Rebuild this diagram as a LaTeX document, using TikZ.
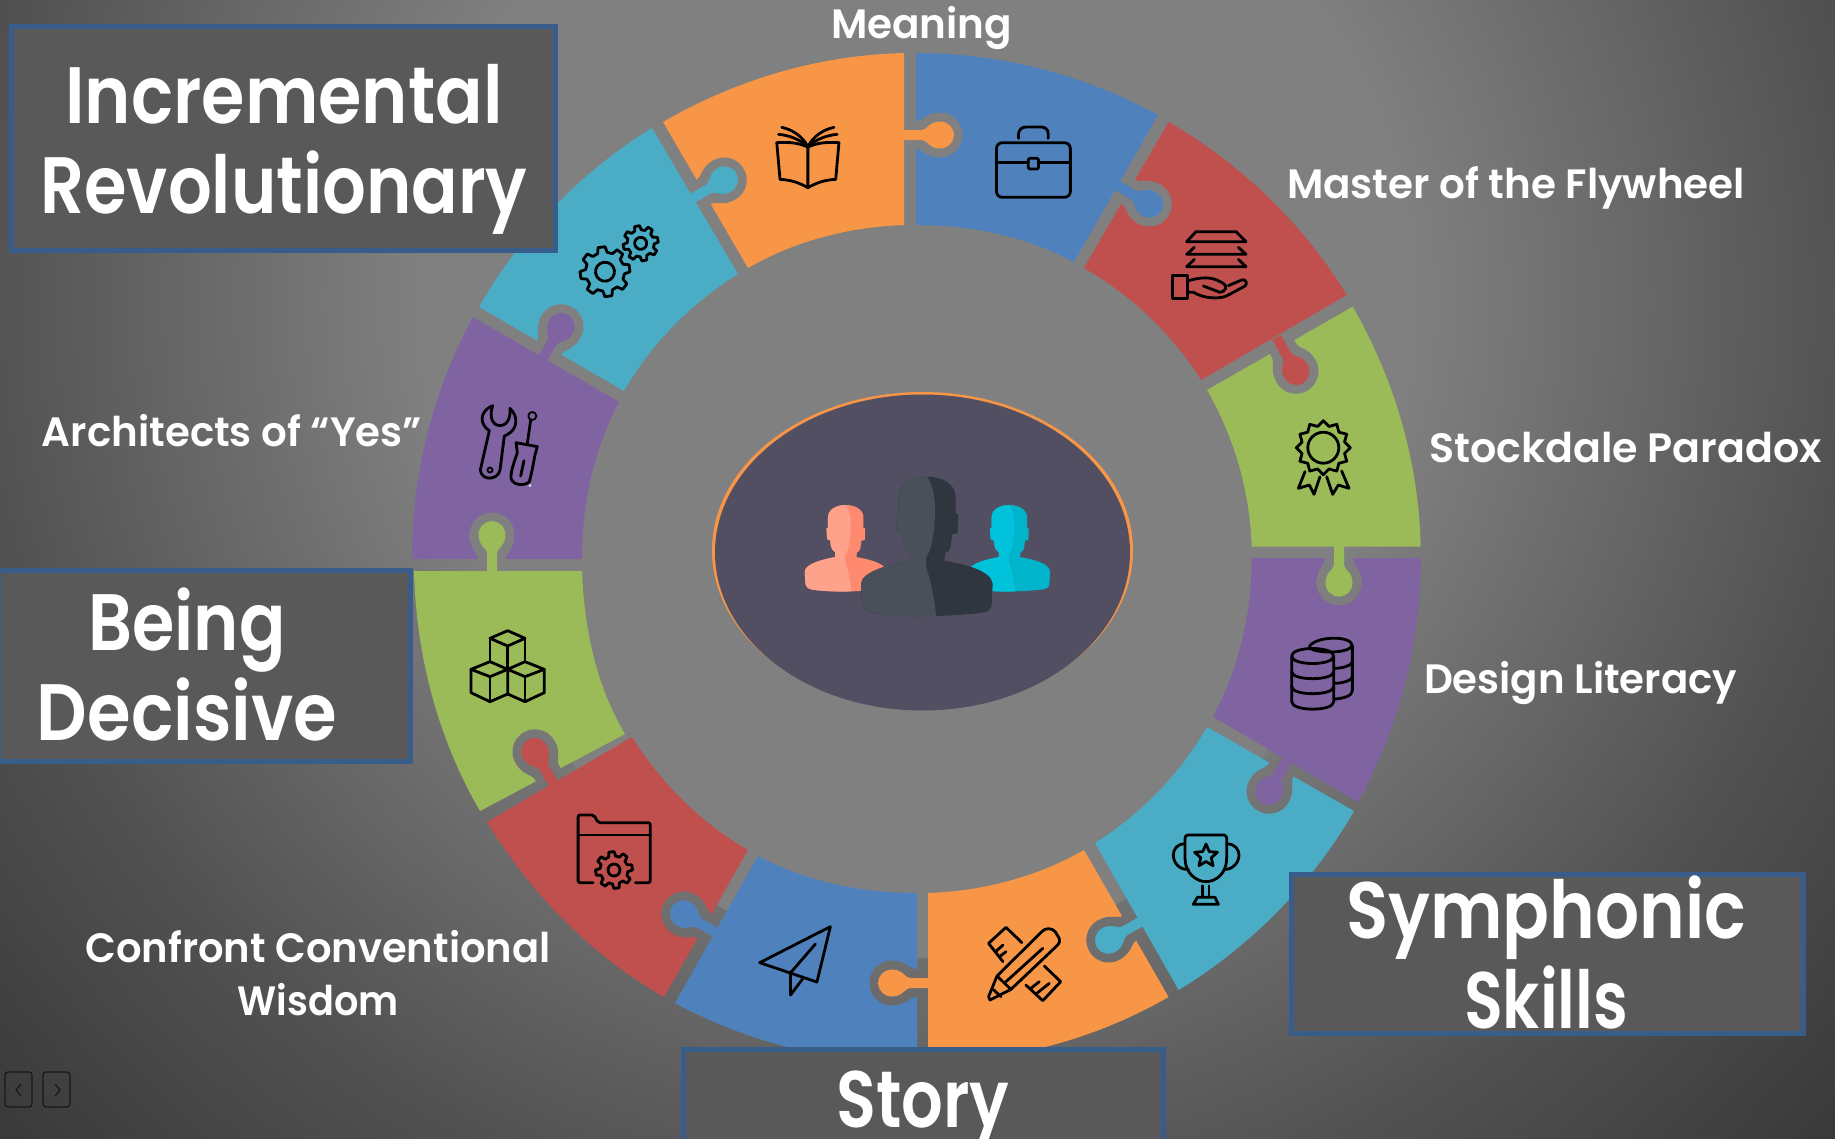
\documentclass[tikz,border=0pt]{standalone}
\usepackage{fontspec}
\usepackage{graphicx}
\setmainfont{Poppins}[UprightFont=* SemiBold]
\definecolor{pOrange}{HTML}{F79646}
\definecolor{pBlue}{HTML}{4F81BD}
\definecolor{pRed}{HTML}{C0504D}
\definecolor{pGreen}{HTML}{9BBB59}
\definecolor{pPurple}{HTML}{8064A2}
\definecolor{pCyan}{HTML}{4BACC6}
\definecolor{boxFill}{HTML}{595959}
\definecolor{boxLine}{HTML}{385D8A}
\definecolor{eggFill}{HTML}{524F63}
\definecolor{manL}{HTML}{495059}
\definecolor{manD}{HTML}{30363F}
\definecolor{pinkL}{HTML}{FFA28C}
\definecolor{pinkD}{HTML}{FF8A70}
\definecolor{tealL}{HTML}{00C3DB}
\definecolor{tealD}{HTML}{00B5CB}
\definecolor{midGrey}{HTML}{808080}
\definecolor{navDark}{HTML}{181818}
\pgfdeclareradialshading{bgshade}{\pgfpoint{0bp}{0bp}}{%
 rgb(0bp)=(0.502,0.502,0.502);
 rgb(9.5bp)=(0.502,0.502,0.502);
 rgb(18bp)=(0.32,0.32,0.32);
 rgb(26bp)=(0.19,0.19,0.19);
 rgb(100bp)=(0.19,0.19,0.19)}
\newcommand\bgfill{\path[shading=bgshade] (916,300) circle[radius=1300pt];}
\newcommand\fitw[2]{\resizebox{#1pt}{\height}{#2}}
% a ring piece: colour, outer1, outer2, inner2, inner1 (px, y down); centre of the ring 916,558
\newcommand\ringpiece[9]{%
 \begin{scope}[y=1pt]
 \pgfmathsetmacro\aA{atan2(558-#3,#2-916)}
 \pgfmathsetmacro\aB{atan2(558-#5,#4-916)}
 \pgfmathsetmacro\aBB{\aB>\aA ? \aB-360 : \aB}
 \pgfmathsetmacro\rO{veclen(558-#3,#2-916)}
 \pgfmathsetmacro\hO{4/3*tan((\aA-\aBB)/4)*\rO}
 \pgfmathsetmacro\aC{atan2(558-#7,#6-916)}
 \pgfmathsetmacro\aD{atan2(558-#9,#8-916)}
 \pgfmathsetmacro\aDD{\aD<\aC ? \aD+360 : \aD}
 \pgfmathsetmacro\rI{veclen(558-#7,#6-916)}
 \pgfmathsetmacro\hI{4/3*tan((\aDD-\aC)/4)*\rI}
 \pgfmathsetmacro\pA{#2+\hO*sin(\aA)}
 \pgfmathsetmacro\pB{-#3-\hO*cos(\aA)}
 \pgfmathsetmacro\pC{#4-\hO*sin(\aBB)}
 \pgfmathsetmacro\pD{-#5+\hO*cos(\aBB)}
 \pgfmathsetmacro\qA{#6-\hI*sin(\aC)}
 \pgfmathsetmacro\qB{-#7+\hI*cos(\aC)}
 \pgfmathsetmacro\qC{#8+\hI*sin(\aDD)}
 \pgfmathsetmacro\qD{-#9-\hI*cos(\aDD)}
 \fill[#1] (#2,-#3) .. controls (\pA,\pB) and (\pC,\pD) .. (#4,-#5) -- (#6,-#7)
   .. controls (\qA,\qB) and (\qC,\qD) .. (#8,-#9) -- cycle;
 \end{scope}}
\newcommand\tabhalo[3]{%
 \begin{scope}[shift={(#1,#2)},rotate=#3]
 \clip (5,-14) -- (13,-14) .. controls (18,-14) and (22,-22.5) .. (36,-22.5)
   .. controls (49,-22.5) and (58.5,-12) .. (58.5,0)
   .. controls (58.5,12) and (49,22.5) .. (36,22.5)
   .. controls (22,22.5) and (18,14) .. (13,14) -- (5,14) -- cycle;
 \begin{scope}[reset cm]\bgfill\end{scope}
 \end{scope}}
\newcommand\tabbulb[4]{%
 \fill[#4,shift={(#1,#2)},rotate=#3] (-3,-5) -- (18,-5) .. controls (23,-5) and (25,-13.5) .. (36,-13.5)
   .. controls (44,-13.5) and (50,-7) .. (50,0)
   .. controls (50,7) and (44,13.5) .. (36,13.5)
   .. controls (25,13.5) and (23,5) .. (18,5) -- (-3,5) -- cycle;}
\newcommand\gearicon[7]{%
 \begin{scope}[shift={(#1,#2)},rotate=#7]
 \pgfmathsetmacro\st{360/#6}
 \draw[iconline] ({-0.32*\st}:#4) \foreach \k in {1,...,#6}{
    -- ({(\k-1)*\st-0.18*\st}:#3) -- ({(\k-1)*\st+0.18*\st}:#3)
    -- ({(\k-1)*\st+0.32*\st}:#4) -- ({(\k-1)*\st+0.68*\st}:#4)} -- cycle;
 \draw[iconline] (0,0) circle[radius=#5pt];
 \end{scope}}
\newcommand\staricon[6]{%
 \begin{scope}[shift={(#1,#2)}]
 \pgfmathsetmacro\st{360/#5}
 \draw[iconline] ({#6}:#3) \foreach \k in {1,...,#5}{
    -- ({#6+(\k-0.5)*\st}:#4) -- ({#6+\k*\st}:#3)} -- cycle;
 \end{scope}}
% bust: head-top at origin, measured at the size of the large figure
\newcommand\bust[2]{%
 \fill[#2] (0,0) .. controls (50,0) and (86,25) .. (86,60) -- (86,110) -- (94,113) -- (92,170) -- (76,172)
   -- (71,210) .. controls (68,222) and (60,228) .. (54,230) -- (52,252)
   .. controls (110,262) and (190,280) .. (197,320) -- (194,385)
   .. controls (192,400) and (180,406) .. (165,408) .. controls (90,418) and (-60,424) .. (-160,410)
   .. controls (-185,405) and (-195,395) .. (-196,370) -- (-198,320)
   .. controls (-195,285) and (-110,262) .. (-51,252) -- (-51,228)
   .. controls (-60,222) and (-68,215) .. (-72,195) -- (-76,170) -- (-90,165) -- (-93,113) -- (-86,110)
   -- (-86,60) .. controls (-86,25) and (-50,0) .. (0,0) -- cycle;
 \fill[#1] (0,0) .. controls (-50,0) and (-86,25) .. (-86,60) -- (-86,110) -- (-93,113) -- (-90,165) -- (-76,170)
   -- (-72,195) .. controls (-68,215) and (-60,222) .. (-51,228) -- (-51,252)
   .. controls (-110,262) and (-195,285) .. (-198,320) -- (-196,370)
   .. controls (-195,395) and (-185,405) .. (-160,410) .. controls (-100,418) and (-30,420) .. (27,418)
   .. controls (24,370) and (10,310) .. (-3,270) -- (-3,240)
   .. controls (15,225) and (24,150) .. (24,100) .. controls (24,60) and (18,25) .. (0,0) -- cycle;}
\tikzset{
 iconline/.style={draw=black,line width=2.8pt,line join=round,line cap=round},
 lbl/.style={anchor=base,text=white,inner sep=0pt,font=\fontsize{41}{53}\selectfont,align=center},
 biglbl/.style={anchor=base,text=white,inner sep=0pt,font=\fontsize{80}{90}\selectfont,align=center},
 titlebox/.style={fill=boxFill,draw=boxLine,line width=5pt},
 navbtn/.style={draw=navDark,line width=1.2pt,rounded corners=3pt},
 zoomA/.style={shift={(640,30)},x=.35714pt,y=-.33333pt},
 zoomB/.style={x=.33333pt,y=-.33333pt},
 zoomC/.style={shift={(400,780)},x=.49751pt,y=-.33333pt}
}
\begin{document}
\begin{tikzpicture}[x=1pt,y=-1pt]
\useasboundingbox (0,0) rectangle (1835,1138);
\clip (0,0) rectangle (1835,1138);
\bgfill
\fill[midGrey] (916,558) circle[radius=400pt];
% ---- ring pieces
\ringpiece{pOrange}{663}{122}{904}{53}{904}{225}{748}{268}
\ringpiece{pBlue}{916}{53}{1158}{115}{1074}{262}{916}{225}
\ringpiece{pRed}{1168.6}{122}{1346.7}{295}{1201}{380}{1084}{268}
\ringpiece{pGreen}{1352.7}{306.7}{1420.7}{546.7}{1251.7}{546.7}{1207}{390}
\ringpiece{pPurple}{1420.7}{558}{1358}{802}{1213}{716.7}{1251.7}{558}
\ringpiece{pCyan}{1354}{811}{1178.6}{990}{1095}{843}{1207}{727}
\ringpiece{pOrange}{1168.6}{997}{928}{1063}{928}{893}{1084}{850}
\ringpiece{pBlue}{917}{1063}{675}{1003}{758}{856}{917}{893}
\ringpiece{pRed}{664}{997}{487}{822}{632}{737}{748}{850}
\ringpiece{pGreen}{480}{811}{414}{571}{582}{571}{625}{734}
\ringpiece{pPurple}{412}{559}{473}{317}{619}{402}{582}{559}
\ringpiece{pCyan}{479}{307}{652}{128}{738}{274}{624}{391}
% ---- halos round the tabs
\tabhalo{904}{135}{0}
\tabhalo{1118}{186}{-30}
\tabhalo{1278}{340}{-60}
\tabhalo{1339}{546.7}{-90}
\tabhalo{1287}{760}{-120}
\tabhalo{1140}{922}{-150}
\tabhalo{928}{983}{180}
\tabhalo{715}{932}{150}
\tabhalo{553}{783}{120}
\tabhalo{492}{571}{90}
\tabhalo{543}{358}{60}
\tabhalo{693}{198}{30}
% ---- tabs
\tabbulb{904}{135}{0}{pOrange}
\tabbulb{1118}{186}{-30}{pBlue}
\tabbulb{1278}{340}{-60}{pRed}
\tabbulb{1339}{546.7}{-90}{pGreen}
\tabbulb{1287}{760}{-120}{pPurple}
\tabbulb{1140}{922}{-150}{pCyan}
\tabbulb{928}{983}{180}{pOrange}
\tabbulb{715}{932}{150}{pBlue}
\tabbulb{553}{783}{120}{pRed}
\tabbulb{492}{571}{90}{pGreen}
\tabbulb{543}{358}{60}{pPurple}
\tabbulb{693}{198}{30}{pCyan}
% ---- centre
\fill[pOrange] (922.5,550.5) ellipse[x radius=210.5pt,y radius=158.5pt];
\fill[eggFill] (922.5,552.5) ellipse[x radius=207.5pt,y radius=158pt];
\begin{scope}[shift={(845.7,505)},x=.2067pt,y=-.2067pt]\bust{pinkL}{pinkD}\end{scope}
\begin{scope}[shift={(1009.3,505)},x=.2067pt,y=-.2067pt]\bust{tealL}{tealD}\end{scope}
\begin{scope}[shift={(927,476.7)},x=.33333pt,y=-.33333pt]\bust{manL}{manD}\end{scope}
% ---- icons from the top crop
\begin{scope}[zoomA]
 % book
 \draw[iconline] (470,352) .. controls (450,340) and (420,335) .. (383,338) -- (392,448)
   .. controls (420,450) and (440,455) .. (470,473) .. controls (500,455) and (520,450) .. (548,448)
   -- (557,338) .. controls (520,335) and (490,340) .. (470,352) -- (470,473);
 \draw[iconline] (397,292) .. controls (430,300) and (455,320) .. (470,350)
   .. controls (485,320) and (510,300) .. (543,292);
 \draw[iconline] (388,313) .. controls (420,316) and (450,330) .. (470,350)
   .. controls (490,330) and (520,316) .. (552,313);
 % briefcase
 \draw[iconline,rounded corners=6pt] (998,338) rectangle (1205,502);
 \draw[iconline] (998,397) -- (1087,397) (1116,397) -- (1205,397);
 \draw[iconline,rounded corners=2pt] (1087,385) rectangle (1116,417);
 \draw[iconline] (1060,325) -- (1060,312) .. controls (1060,298) and (1070,291) .. (1082,291)
   -- (1122,291) .. controls (1135,291) and (1143,298) .. (1143,312) -- (1143,325);
\end{scope}
% hand with layers
\begin{scope}[shift={(1160,215)},zoomB]
 \draw[iconline] (108,50) -- (228,50) -- (258,80) -- (80,80) -- cycle;
 \draw[iconline] (103,97) -- (80,118) -- (258,118) -- (235,97);
 \draw[iconline] (103,133) -- (80,155) -- (258,155) -- (235,133);
 \draw[iconline] (38,182) rectangle (82,250);
 \draw[iconline] (82,198) .. controls (110,190) and (140,183) .. (170,195) -- (190,205)
   .. controls (205,212) and (195,232) .. (180,232) -- (130,213);
 \draw[iconline] (82,232) -- (100,232) .. controls (130,250) and (180,255) .. (205,240) -- (255,213)
   .. controls (265,205) and (255,190) .. (245,195) -- (205,212);
\end{scope}
% rosette
\begin{scope}[shift={(1150,280)},zoomB]
 \draw[iconline] (465,575) -- (445,625) -- (478,615) -- (492,643) -- (510,590);
 \draw[iconline] (530,590) -- (548,643) -- (565,615) -- (597,625) -- (575,573);
\end{scope}
\staricon{1323.3}{447.7}{27}{22}{12}{-90}
\draw[iconline] (1323.3,447.7) circle[radius=15.5pt];
% database
\begin{scope}[shift={(1150,280)},zoomB]
 \draw[iconline] (425,1128) .. controls (425,1098) and (551,1098) .. (551,1128)
   .. controls (551,1158) and (425,1158) .. (425,1128) -- (425,1265)
   .. controls (425,1295) and (551,1295) .. (551,1265) -- (551,1128);
 \draw[iconline] (425,1175) .. controls (425,1203) and (551,1203) .. (551,1175);
 \draw[iconline] (425,1220) .. controls (425,1248) and (551,1248) .. (551,1220);
 \draw[iconline] (478,1100) .. controls (495,1068) and (607,1065) .. (607,1098) -- (607,1232)
   .. controls (607,1248) and (580,1255) .. (555,1257);
 \draw[iconline] (478,1104) .. controls (500,1120) and (590,1122) .. (607,1098);
 \draw[iconline] (553,1165) .. controls (580,1165) and (607,1155) .. (607,1145);
 \draw[iconline] (553,1210) .. controls (580,1210) and (607,1200) .. (607,1190);
\end{scope}
% trophy
\begin{scope}[shift={(1160,820)},zoomB]
 \draw[iconline,rounded corners=3pt] (75,115) -- (75,45) -- (200,45) -- (200,115);
 \draw[iconline] (75,115) .. controls (75,160) and (110,185) .. (138,185)
   .. controls (168,185) and (200,160) .. (200,115);
 \draw[iconline] (75,72) .. controls (50,70) and (40,90) .. (40,105) .. controls (40,130) and (60,150) .. (85,148);
 \draw[iconline] (200,72) .. controls (225,70) and (237,90) .. (237,105) .. controls (237,130) and (215,150) .. (192,148);
 \draw[iconline] (128,197) -- (128,232) (147,197) -- (147,232);
 \draw[iconline] (100,253) -- (112,232) -- (165,232) -- (175,253) -- cycle;
\end{scope}
\staricon{1206}{856}{12}{5.5}{5}{-90}
% cubes
\begin{scope}[shift={(460,620)},zoomB]
 \draw[iconline] (143,32) -- (195,55) -- (143,78) -- (90,55) -- cycle;
 \draw[iconline] (90,55) -- (90,125) (195,55) -- (195,125) (143,78) -- (143,148);
 \draw[iconline] (90,125) -- (143,148) -- (90,170) -- (33,148) -- cycle;
 \draw[iconline] (33,148) -- (33,218) -- (90,245) -- (143,222) -- (143,148);
 \draw[iconline] (90,170) -- (90,245);
 \draw[iconline] (195,125) -- (253,148) -- (195,170) -- (143,148) -- cycle;
 \draw[iconline] (253,148) -- (253,218) -- (195,245) -- (143,222);
 \draw[iconline] (195,170) -- (195,245);
\end{scope}
% gears
\gearicon{605}{271.7}{25}{19.5}{9.5}{8}{8}
\gearicon{640.7}{243.3}{17.7}{13.5}{6}{8}{12}
% wrench and screwdriver
\begin{scope}[shift={(400,120)},zoomB]
 \draw[iconline] (278,857) .. controls (270,880) and (270,915) .. (300,917)
   .. controls (325,915) and (332,890) .. (330,865)
   .. controls (352,885) and (358,925) .. (320,945) -- (313,948) -- (300,1050)
   .. controls (295,1080) and (245,1085) .. (241,1050) -- (268,932)
   .. controls (240,915) and (235,875) .. (278,857) -- cycle;
 \draw[iconline,line width=1.8pt] (270,1050) circle[radius=2.5pt];
 \draw[iconline,line width=1.8pt] (397,888) circle[radius=4pt];
 \draw[iconline] (392,901) -- (382,970);
 \draw[iconline] (348,968) -- (412,980) -- (405,1005) .. controls (400,1030) and (395,1060) .. (388,1085)
   .. controls (375,1098) and (340,1098) .. (333,1075) .. controls (332,1050) and (345,1020) .. (352,998) -- cycle;
 \draw[iconline] (372,1022) -- (362,1068);
 \fill[white!80!pPurple] (390,1097) circle[radius=1.5pt];
\end{scope}
% folder, plane, pencil and ruler
\begin{scope}[zoomC]
 \draw[iconline,rounded corners=2pt] (388,308) -- (358,308) -- (358,105) -- (390,105) -- (398,128) -- (503,128) -- (503,308) -- (473,308);
 \draw[iconline] (358,165) -- (503,165);
 % plane
 \draw[iconline] (865,440) -- (723,548) -- (838,606) -- cycle;
 \draw[iconline] (835,492) -- (787,575);
 \draw[iconline] (785,575) -- (785,645) -- (810,595);
 % ruler
 \draw[iconline] (1250,488) -- (1218,442) -- (1183,490) -- (1212,545);
 \draw[iconline] (1197,515) -- (1212,495) (1205,530) -- (1218,515);
 \draw[iconline] (1295,558) -- (1328,605) -- (1292,662) -- (1258,615);
 \draw[iconline] (1280,640) -- (1305,610) (1268,625) -- (1285,605);
 % pencil
 \draw[iconline] (1200,588) -- (1290,455) .. controls (1297,443) and (1310,443) .. (1317,455)
   -- (1325,475) .. controls (1327,483) and (1326,488) .. (1322,495) -- (1228,628) -- (1186,660)
   -- (1183,650) -- cycle;
 \draw[iconline] (1292,505) -- (1218,605);
 \draw[iconline] (1200,588) -- (1228,628);
 \draw[iconline] (1192,628) -- (1208,650);
\end{scope}
\gearicon{614}{870}{18.5}{14}{6}{8}{8}
% ---- labels without frame
\node[lbl] (meaning) at (921.5,38) {\fitw{181}{Meaning}};
\node[lbl] (master) at (1516,198) {\fitw{458}{Master of the Flywheel}};
\node[lbl] (stockdale) at (1625.5,462) {\fitw{393}{Stockdale Paradox}};
\node[lbl] (design) at (1580.5,693) {\fitw{313}{Design Literacy}};
\node[lbl] (architects) at (232,446) {\fitw{380}{Architects of “Yes”}};
\node[lbl] (confront) at (318,1015) {\fitw{465}{Confront Conventional}\\\fitw{161}{Wisdom}};
% ---- framed titles
\node[titlebox,rectangle,inner sep=0pt,minimum width=544pt,minimum height=224pt] (boxA) at (283.5,138) {};
\node[biglbl] (incr) at (284,213) {\fitw{437}{Incremental}\\\fitw{487}{Revolutionary}};
\node[titlebox,rectangle,inner sep=0pt,minimum width=412.5pt,minimum height=191pt] (boxB) at (204.25,665.5) {};
\node[biglbl] (being) at (187,740) {\fitw{197}{Being}\\\fitw{300}{Decisive}};
\node[titlebox,rectangle,inner sep=0pt,minimum width=512pt,minimum height=159pt] (boxC) at (1547,953.5) {};
\node[biglbl] (symph) at (1546,1028) {\fitw{400}{Symphonic}\\\fitw{164}{Skills}};
\node[titlebox,rectangle,inner sep=0pt,minimum width=480pt,minimum height=120pt] (boxD) at (923.5,1109.5) {};
\node[biglbl] (story) at (923,1127) {\fitw{173}{Story}};
% ---- navigation buttons
\node[navbtn,rectangle,inner sep=0pt,minimum width=27pt,minimum height=35pt] (prev) at (18.5,1089.5) {};
\node[navbtn,rectangle,inner sep=0pt,minimum width=27pt,minimum height=35pt] (next) at (56.5,1089.5) {};
\draw[line width=1.2pt,draw=navDark] (21,1084) -- (16,1090) -- (21,1096);
\draw[line width=1.2pt,draw=navDark] (55,1084) -- (60,1090) -- (55,1096);
\end{tikzpicture}
\end{document}
